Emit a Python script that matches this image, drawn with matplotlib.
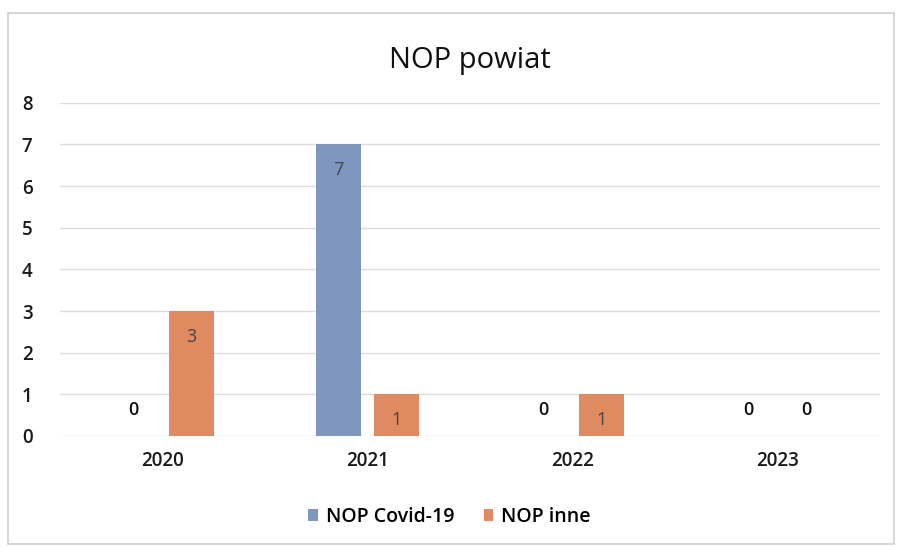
import matplotlib.pyplot as plt
import numpy as np
from matplotlib.patches import Rectangle

plt.rcParams['font.family'] = ['Open Sans', 'DejaVu Sans']

lata = ['2020', '2021', '2022', '2023']
nop_covid = [0, 7, 0, 0]
nop_inne = [3, 1, 1, 0]

kolor_covid = '#7f97bf'
kolor_inne = '#e08a62'

fig = plt.figure(figsize=(8.99, 5.47), dpi=100)
# ramka wykresu
fig.patches.append(Rectangle((0.009, 0.005), 0.985, 0.972, transform=fig.transFigure,
                             fill=False, edgecolor='#d0d0d0', linewidth=1.2))
ax = fig.add_axes([0.067, 0.203, 0.912, 0.609])

x = np.arange(len(lata))
w = 0.22
off = 0.141
b1 = ax.bar(x - off, nop_covid, w, color=kolor_covid, label='NOP Covid-19', zorder=3)
b2 = ax.bar(x + off, nop_inne, w, color=kolor_inne, label='NOP inne', zorder=3)

# etykiety danych
for xs, vals in [(x - off, nop_covid), (x + off, nop_inne)]:
    for xi, v in zip(xs, vals):
        y = v - 0.62 if v > 0 else 0.62
        ax.text(xi, y, str(v), ha='center', va='center', fontsize=13,
                fontweight='semibold' if v == 0 else 'normal',
                color='#444444' if v > 0 else '#111111', zorder=4)

ax.set_xlim(-0.5, 3.5)
ax.set_ylim(0, 8)
ax.set_yticks(range(0, 9))
ax.set_xticks(x)
ax.set_xticklabels(lata)
ax.grid(axis='y', color='#dcdcdc', linewidth=1, zorder=0)
for s in ax.spines.values():
    s.set_visible(False)
ax.tick_params(length=0, labelsize=13.5, colors='#1a1a1a')
for lab in ax.get_xticklabels() + ax.get_yticklabels():
    lab.set_fontweight('semibold')
ax.tick_params(axis='y', pad=20)
ax.tick_params(axis='x', pad=11)

ax.set_title('NOP powiat', fontsize=21, pad=25, color='#111111')

fig.legend(handles=[b1, b2], loc='center', bbox_to_anchor=(0.5, 0.055), ncol=2,
           frameon=False, prop={'size': 14, 'weight': 'semibold'},
           handlelength=0.5, handleheight=0.5,
           columnspacing=1.5, handletextpad=0.4)

fig.savefig('out.png', dpi=100)
